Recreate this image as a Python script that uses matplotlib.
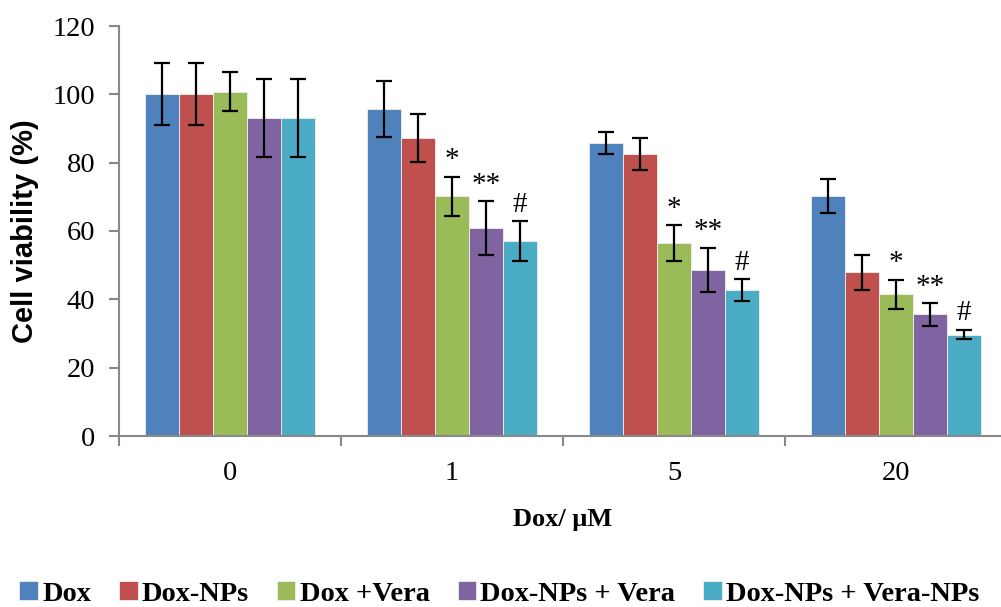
import numpy as np
import matplotlib.pyplot as plt

# data
doses = ['0', '1', '5', '20']
series = ['Dox', 'Dox-NPs', 'Dox +Vera', 'Dox-NPs + Vera', 'Dox-NPs + Vera-NPs']
dox = [100.0, 95.7, 85.7, 70.2]
dox_nps = [100.0, 87.2, 82.5, 47.9]
dox_vera = [100.8, 70.1, 56.4, 41.5]
dox_nps_vera = [93.0, 60.9, 48.6, 35.6]
dox_nps_vera_nps = [93.0, 57.0, 42.7, 29.7]
dox_err = [9.1, 8.1, 3.3, 4.9]
dox_nps_err = [9.1, 6.9, 4.6, 5.2]
dox_vera_err = [5.6, 5.8, 5.3, 4.3]
dox_nps_vera_err = [11.4, 7.8, 6.5, 3.3]
dox_nps_vera_nps_err = [11.4, 5.8, 3.2, 1.4]
# significance marks per series (index of series -> text), groups 1..3
marks = {2: '*', 3: '**', 4: '#'}
mark_groups = [1, 2, 3]

values = [dox, dox_nps, dox_vera, dox_nps_vera, dox_nps_vera_nps]
errors = [dox_err, dox_nps_err, dox_vera_err, dox_nps_vera_err, dox_nps_vera_nps_err]
colors = ['#4F81BD', '#C0504D', '#9BBB59', '#8064A2', '#4BACC6']

serif = 'Liberation Serif'
sans = 'Liberation Sans'
axis_gray = '#898989'

fig = plt.figure(figsize=(10.01, 6.07), dpi=100)
ax = fig.add_axes([119 / 1001, 1 - 436 / 607, 888 / 1001, 410 / 607])

x = np.arange(len(doses))
n = len(series)
width = 0.766 / n
for i in range(n):
    pos = x + (i - (n - 1) / 2) * width
    ax.bar(pos, values[i], width, color=colors[i], edgecolor='#f0f0f0', linewidth=0.6,
           label=series[i], zorder=2)
    ax.errorbar(pos, values[i], yerr=errors[i], fmt='none', ecolor='black',
                elinewidth=1.6, capsize=6, capthick=1.6, zorder=3)
    if i in marks:
        for g in mark_groups:
            top = values[i][g] + errors[i][g]
            ax.text(pos[g], top + 1.0, marks[i], ha='center', va='bottom',
                    family=serif, fontsize=21, zorder=4)

ax.set_xlim(-0.5, len(doses) - 0.5)
ax.set_ylim(0, 120)
ax.set_yticks(np.arange(0, 121, 20))
ax.set_xticks(x)
ax.set_xticklabels(doses)
ax.set_xticks(np.arange(-0.5, len(doses), 1), minor=True)

for side in ['top', 'right']:
    ax.spines[side].set_visible(False)
for side in ['left', 'bottom']:
    ax.spines[side].set_color(axis_gray)
    ax.spines[side].set_linewidth(1.5)

ax.tick_params(axis='y', direction='out', length=7, width=1.5, color=axis_gray,
               labelsize=20.5, pad=10)
ax.tick_params(axis='x', which='major', length=0, labelsize=20.5, pad=18)
ax.tick_params(axis='x', which='minor', direction='out', length=7, width=1.5,
               color=axis_gray)
for lab in ax.get_xticklabels() + ax.get_yticklabels():
    lab.set_family(serif)

ax.set_ylabel('Cell viability (%)', family=sans, fontweight='bold', fontsize=21,
              labelpad=10)
ax.set_xlabel('Dox/ \u03bcM', family=serif, fontweight='bold', fontsize=19, labelpad=16)

handles, labels = ax.get_legend_handles_labels()
fig.legend(handles, labels, loc='center', bbox_to_anchor=(0.499, 1 - 594 / 607),
           ncol=5, frameon=False, prop={'family': serif, 'weight': 'bold', 'size': 20.5},
           handlelength=0.65, handleheight=0.65, handletextpad=0.15, columnspacing=0.98)

fig.savefig('out.png', dpi=100)
